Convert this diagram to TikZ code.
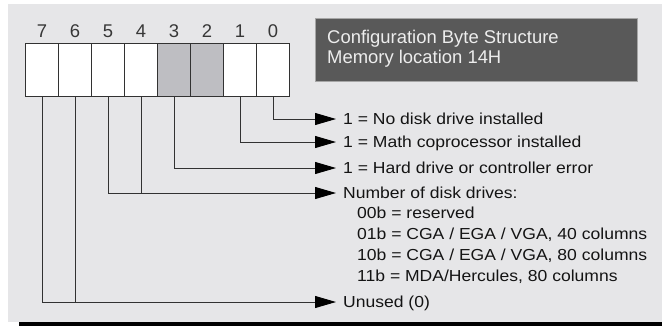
\documentclass[tikz,border=0pt]{standalone}
\usepackage{fontspec}
\setmainfont{Liberation Sans}
\newfontfamily\listfont[FakeStretch=1.1]{Liberation Sans}
\usetikzlibrary{arrows.meta,calc}
\definecolor{bgc}{RGB}{230,230,232}
\definecolor{titlec}{RGB}{89,89,89}
\definecolor{cellg}{RGB}{190,190,194}
\definecolor{linec}{RGB}{50,50,50}
\definecolor{txtc}{RGB}{20,20,20}
\tikzset{
  cell/.style={draw=linec, line width=0.9bp, minimum width=33bp, minimum height=53bp, inner sep=0, anchor=north west},
  bitnum/.style={font=\fontsize{18.5}{20}\selectfont, text=txtc!85, inner sep=0, anchor=base},
  item/.style={font=\listfont\fontsize{16}{18}\selectfont, text=txtc, anchor=west, inner xsep=7bp, inner ysep=0, text height=11.5bp, text depth=0pt},
  sub/.style={font=\listfont\fontsize{16}{18}\selectfont, text=txtc, anchor=west, inner xsep=0, inner ysep=0, text height=11.5bp, text depth=0pt},
  conn/.style={draw=linec, line width=0.9bp, -{Triangle[length=21bp,width=12bp,color=black]}},
  plain/.style={draw=linec, line width=0.9bp}
}
\begin{document}
\begin{tikzpicture}[x=1bp,y=-1bp]
\useasboundingbox (0,0) rectangle (662,326);
\fill[white] (0,0) rectangle (662,326);
\fill[bgc] (8,4) rectangle (662,321.5);
\fill[black] (19,322.3) rectangle (662,326);
% title
\node[draw=gray!70, fill=titlec, minimum width=322bp, minimum height=63bp, anchor=north west, inner sep=0] (title) at (315,18) {};
\node[font=\fontsize{18.5}{20}\selectfont, text=white!93!black, anchor=base west, inner sep=0] (tl1) at (327,43) {Configuration Byte Structure};
\node[font=\fontsize{18.5}{20}\selectfont, text=white!93!black, anchor=base west, inner sep=0] (tl2) at (327,63) {Memory location 14H};
% cells
\foreach \b/\i in {7/0,6/1,5/2,4/3,3/4,2/5,1/6,0/7}{
  \pgfmathsetmacro{\xx}{25+33*\i}
  \ifnum\b=3 \node[cell, fill=cellg] (c\b) at (\xx,43) {};
  \else\ifnum\b=2 \node[cell, fill=cellg] (c\b) at (\xx,43) {};
  \else \node[cell, fill=white] (c\b) at (\xx,43) {};
  \fi\fi
  \node[bitnum] (n\b) at ($(c\b.north)+(0,-6)$) {\b};
}
% texts
\node[item] (t0) at (336,119) {1 = No disk drive installed};
\node[item] (t1) at (336,142) {1 = Math coprocessor installed};
\node[item] (t3) at (336,168) {1 = Hard drive or controller error};
\node[item] (t45) at (336,193) {Number of disk drives:};
\node[sub] (s0) at (357,213) {00b = reserved};
\node[sub] (s1) at (357,234) {01b = CGA / EGA / VGA, 40 columns};
\node[sub] (s2) at (357,255) {10b = CGA / EGA / VGA, 80 columns};
\node[sub] (s3) at (357,276) {11b = MDA/Hercules, 80 columns};
\node[item] (t67) at (336,302) {Unused (0)};
% connectors
\draw[conn] (c0.south) |- (t0.west);
\draw[conn] (c1.south) |- (t1.west);
\draw[conn] (c3.south) |- (t3.west);
\draw[conn] (c5.south) |- (t45.west);
\draw[plain] (c4.south) -- (c4.south |- t45.west);
\draw[conn] (c7.south) |- (t67.west);
\draw[plain] (c6.south) -- (c6.south |- t67.west);
\end{tikzpicture}
\end{document}
